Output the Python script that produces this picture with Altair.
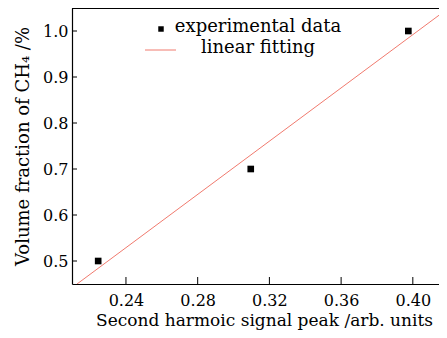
import altair as alt
import pandas as pd

# data
exp_x = [0.2245, 0.3096, 0.3975]
exp_y = [0.5, 0.7, 1.0]
fit_x = [0.2127, 0.4152]
fit_y = [0.45, 1.036]
x_ticks = [0.24, 0.28, 0.32, 0.36, 0.40]
y_ticks = [0.5, 0.6, 0.7, 0.8, 0.9, 1.0]
legend_labels = ["experimental data", "linear fitting"]

FONT = "DejaVu Serif"
W, H = 367, 276
XDOM = [0.2099, 0.4146]
YDOM = [0.45, 1.05]
RED = "#f07a6e"

xs = alt.Scale(domain=XDOM, nice=False, zero=False)
ys = alt.Scale(domain=YDOM, nice=False, zero=False)

exp_df = pd.DataFrame({"x": exp_x, "y": exp_y})
fit_df = pd.DataFrame({"x": fit_x, "y": fit_y})
xt_df = pd.DataFrame({"t": x_ticks})
yt_df = pd.DataFrame({"t": y_ticks})

xaxis = alt.Axis(values=x_ticks, format=".2f", ticks=False, grid=False,
                 domainColor="black", domainWidth=1.2,
                 labelFont=FONT, labelFontSize=16, labelColor="black", labelPadding=8,
                 title="Second harmoic signal peak /arb. units",
                 titleFont=FONT, titleFontSize=17, titleFontWeight="normal", titleColor="black",
                 titleX=192, titleY=41, titleBaseline="alphabetic", titleAlign="center")
yaxis = alt.Axis(values=y_ticks, format=".1f", ticks=False, grid=False,
                 domainColor="black", domainWidth=1.2,
                 labelFont=FONT, labelFontSize=16, labelColor="black", labelPadding=4,
                 title="Volume fraction of CH₄ /%",
                 titleFont=FONT, titleFontSize=18, titleFontWeight="normal", titleColor="black",
                 titleAngle=270, titleX=-49, titleY=138, titleAlign="center", titleBaseline="middle")

fit = alt.Chart(fit_df).mark_line(color=RED, strokeWidth=1, clip=True).encode(
    x=alt.X("x:Q", scale=xs, axis=xaxis),
    y=alt.Y("y:Q", scale=ys, axis=yaxis),
)
pts = alt.Chart(exp_df).mark_square(color="black", size=44, opacity=1).encode(
    x=alt.X("x:Q", scale=xs),
    y=alt.Y("y:Q", scale=ys),
)
xt = alt.Chart(xt_df).mark_rule(color="black", strokeWidth=1).encode(
    x=alt.X("t:Q", scale=xs),
    y=alt.value(H - 7), y2=alt.value(H),
)
yt = alt.Chart(yt_df).mark_rule(color="black", strokeWidth=1).encode(
    y=alt.Y("t:Q", scale=ys),
    x=alt.value(0), x2=alt.value(5),
)
topline = alt.Chart(pd.DataFrame({"a": [0]})).mark_rule(color="black", strokeWidth=1.2).encode(
    x=alt.value(0), x2=alt.value(W), y=alt.value(0.5),
)

leg_sq = alt.Chart(pd.DataFrame({"a": [0]})).mark_square(color="black", size=30, opacity=1).encode(
    x=alt.value(89), y=alt.value(21),
)
leg_ln = alt.Chart(pd.DataFrame({"a": [0]})).mark_rule(color=RED, strokeWidth=1).encode(
    x=alt.value(73), x2=alt.value(104), y=alt.value(42),
)
leg_txt = alt.Chart(pd.DataFrame({"label": legend_labels, "yy": [19, 40]})).mark_text(
    font=FONT, fontSize=18, color="black", align="center", baseline="middle"
).encode(
    x=alt.value(186), y=alt.Y("yy:Q", scale=None), text="label:N",
)

chart = alt.layer(topline, fit, xt, yt, pts, leg_sq, leg_ln, leg_txt).properties(
    width=W, height=H,
    autosize=alt.AutoSizeParams(type="none"),
    padding={"left": 64, "top": 0, "right": 0, "bottom": 46},
    background="white",
).configure_view(stroke=None)

chart.save("out.html", embed_options={"renderer": "svg", "actions": False})
